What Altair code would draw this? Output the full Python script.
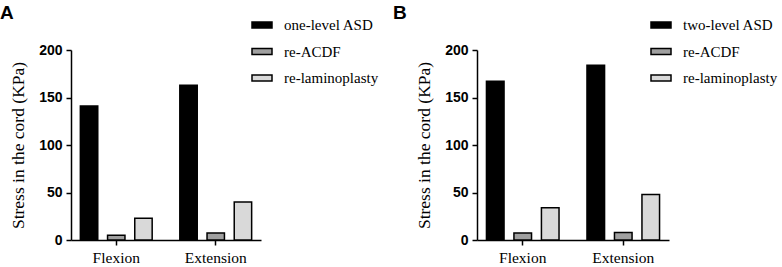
import altair as alt
import pandas as pd

conditions = ["Flexion", "Extension"]
series_a = ["one-level ASD", "re-ACDF", "re-laminoplasty"]
series_b = ["two-level ASD", "re-ACDF", "re-laminoplasty"]
a_asd = [141, 163]
a_acdf = [5, 7.5]
a_lamino = [23, 40]
b_asd = [167, 184]
b_acdf = [7.5, 8]
b_lamino = [34, 48]
colors = ["#000000", "#a0a0a0", "#d9d9d9"]
y_ticks = [0, 50, 100, 150, 200]

SERIF = "Liberation Serif"
SANS = "Liberation Sans"


def make_df(series, vals):
    rows = []
    for s, v in zip(series, vals):
        for c, val in zip(conditions, v):
            rows.append({"condition": c, "series": s, "value": val})
    return pd.DataFrame(rows)


def panel(df, series, letter, width, legend_x, title_dx):
    return (
        alt.Chart(
            df,
            title=alt.TitleParams(
                letter, anchor="start", frame="group", dx=title_dx, offset=-9,
                font=SANS, fontSize=19, fontWeight="bold", color="black",
            ),
        )
        .mark_bar(stroke="black", strokeWidth=1.5)
        .encode(
            x=alt.X(
                "condition:N", sort=conditions,
                scale=alt.Scale(paddingInner=0.278, paddingOuter=0.094),
                axis=alt.Axis(title=None, labelAngle=0, labelFont=SERIF, labelFontSize=15.5,
                              labelColor="black", labelPadding=5),
            ),
            xOffset=alt.XOffset("series:N", sort=series,
                                scale=alt.Scale(domain=series, paddingInner=0.36, paddingOuter=0)),
            y=alt.Y(
                "value:Q", scale=alt.Scale(domain=[0, 200]),
                axis=alt.Axis(values=y_ticks, title="Stress in the cord (KPa)",
                              titleFont=SERIF, titleFontSize=17.5, titleFontWeight="normal",
                              titleColor="black", titlePadding=11,
                              labelFont=SANS, labelFontSize=14, labelFontWeight="bold",
                              labelColor="black", labelPadding=4),
            ),
            color=alt.Color(
                "series:N", sort=series,
                scale=alt.Scale(domain=series, range=colors),
                legend=alt.Legend(
                    title=None, orient="none", legendX=legend_x, legendY=-36,
                    symbolType="M-1,-0.3H1V0.3H-1Z", symbolSize=400,
                    symbolStrokeColor="black", symbolStrokeWidth=1.5,
                    symbolOpacity=1, labelFont=SERIF, labelFontSize=15,
                    labelColor="black", labelOffset=11, rowPadding=7.5,
                ),
            ),
        )
        .properties(width=width, height=190)
    )


df_a = make_df(series_a, [a_asd, a_acdf, a_lamino])
df_b = make_df(series_b, [b_asd, b_acdf, b_lamino])

chart = (
    alt.hconcat(
        panel(df_a, series_a, "A", 190, 180, -71),
        panel(df_b, series_b, "B", 192, 173, -84),
        spacing=14,
    )
    .resolve_scale(color="independent", xOffset="independent")
    .configure_view(stroke=None)
    .configure_axis(domainColor="black", domainWidth=1.5, tickColor="black",
                    tickWidth=1.5, tickSize=5, grid=False)
    .properties(padding={"left": 0, "top": 4, "right": 0, "bottom": 0})
)

chart.save("out.html", embed_options={"renderer": "svg", "actions": False})
